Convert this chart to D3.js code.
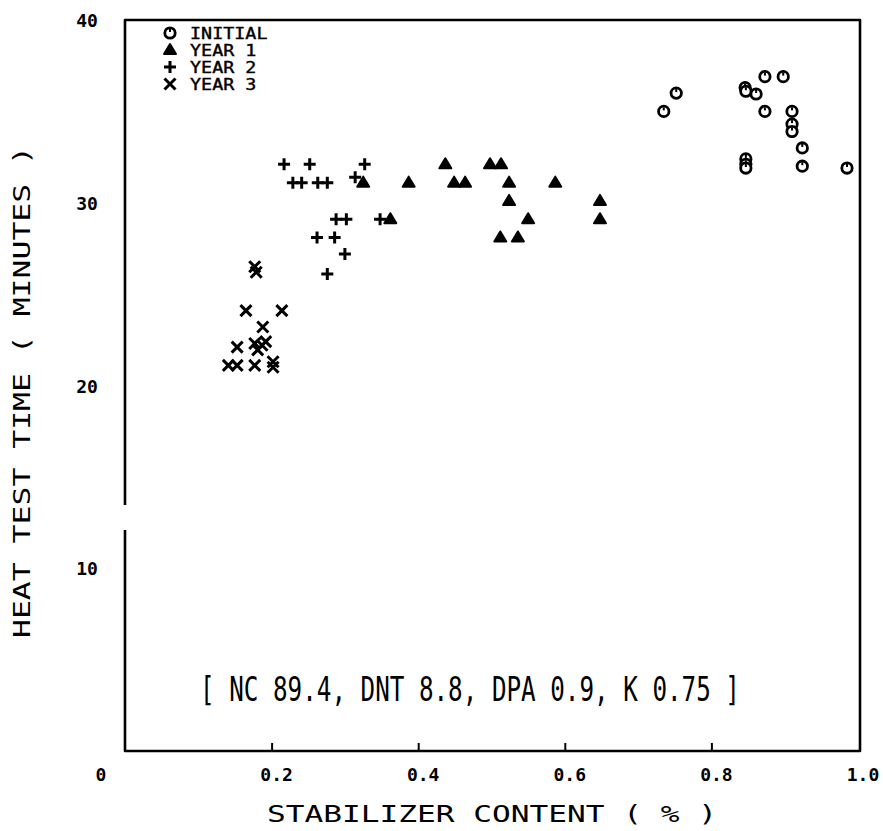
<!DOCTYPE html>
<html>
<head>
<meta charset="utf-8">
<script src="https://cdn.jsdelivr.net/npm/d3@7"></script>
<style>
  html, body { margin: 0; padding: 0; background: #fff; }
  svg text { font-family: "DejaVu Sans Mono", "Liberation Mono", monospace; fill: #000; }
</style>
</head>
<body>
<svg id="chart" width="883" height="831"></svg>
<script>
// Stabilizer content (%) vs. heat test time (minutes), by ageing period
const initialX = [0.735, 0.752, 0.846, 0.847, 0.861, 0.873, 0.898, 0.873, 0.910, 0.910, 0.910, 0.924, 0.924, 0.985, 0.847, 0.847, 0.847];
const initialY = [35.0, 36.0, 36.3, 36.1, 35.95, 36.9, 36.9, 35.0, 35.0, 34.3, 33.9, 33.0, 32.0, 31.9, 32.4, 32.1, 31.9];

const year1X = [0.325, 0.362, 0.387, 0.437, 0.449, 0.464, 0.498, 0.513, 0.524, 0.524, 0.587, 0.550, 0.512, 0.536, 0.648, 0.648];
const year1Y = [31.1, 29.1, 31.1, 32.1, 31.1, 31.1, 32.1, 32.1, 31.1, 30.1, 31.1, 29.1, 28.1, 28.1, 30.1, 29.1];

const year2X = [0.217, 0.252, 0.327, 0.229, 0.241, 0.263, 0.276, 0.314, 0.288, 0.302, 0.348, 0.262, 0.286, 0.300, 0.276];
const year2Y = [32.1, 32.1, 32.1, 31.1, 31.1, 31.1, 31.1, 31.4, 29.1, 29.1, 29.1, 28.1, 28.1, 27.2, 26.1];

const year3X = [0.177, 0.179, 0.165, 0.214, 0.188, 0.153, 0.177, 0.187, 0.181, 0.192, 0.141, 0.153, 0.177, 0.202, 0.202];
const year3Y = [26.5, 26.2, 24.1, 24.1, 23.2, 22.1, 22.3, 22.2, 21.95, 22.4, 21.1, 21.1, 21.1, 21.3, 21.0];

const xTickValues = [0, 0.2, 0.4, 0.6, 0.8, 1.0];
const xTickLabels = ["0", "0.2", "0.4", "0.6", "0.8", "1.0"];
const yTickValues = [10, 20, 30, 40];
const yTickLabels = ["10", "20", "30", "40"];

const legendLabels = ["INITIAL", "YEAR 1", "YEAR 2", "YEAR 3"];
const legendSymbols = ["circle", "triangle", "plus", "cross"];
const compositionNote = "[ NC 89.4, DNT 8.8, DPA 0.9, K 0.75 ]";
const xTitle = "STABILIZER CONTENT ( % )";
const yTitle = "HEAT TEST TIME ( MINUTES )";

const svg = d3.select("#chart");
const plotLeft = 125, plotRight = 858, plotTop = 20, plotBottom = 751;
const x = d3.scaleLinear().domain([0, 1]).range([plotLeft, plotRight]);
const y = d3.scaleLinear().domain([0, 40]).range([plotBottom, plotTop]);

// Frame (left side has a short break, as in the plotter output)
const frame = svg.append("g").attr("fill", "none").attr("stroke", "#000")
  .attr("stroke-width", 2.6).attr("stroke-linejoin", "round");
frame.append("path").attr("d",
  `M${plotLeft},505 L${plotLeft},${plotTop} L${plotRight + 2},${plotTop} L${plotRight + 2},${plotBottom} L${plotLeft},${plotBottom} L${plotLeft},530`);

// Bottom tick marks
svg.append("g")
  .attr("transform", `translate(0,${plotBottom})`)
  .call(d3.axisBottom(x).tickValues([0.2, 0.4, 0.6, 0.8]).tickSize(-8).tickFormat(""))
  .call(g => g.select(".domain").remove())
  .call(g => g.selectAll("line").attr("stroke", "#000").attr("stroke-width", 2));

// Tick labels
svg.append("g").selectAll("text").data(xTickValues).join("text")
  .attr("x", (d, i) => i === 0 ? x(d) - 24 : x(d) + 5)
  .attr("y", 781)
  .attr("text-anchor", "middle")
  .attr("font-size", 18)
  .attr("font-weight", "bold")
  .text((d, i) => xTickLabels[i]);

svg.append("g").selectAll("text").data(yTickValues).join("text")
  .attr("x", 87)
  .attr("y", d => y(d) + 7)
  .attr("text-anchor", "middle")
  .attr("font-size", 18)
  .attr("font-weight", "bold")
  .text((d, i) => yTickLabels[i]);

// Axis titles
svg.append("text")
  .attr("x", 492).attr("y", 822)
  .attr("text-anchor", "middle")
  .attr("font-size", 23)
  .attr("textLength", 450).attr("lengthAdjust", "spacingAndGlyphs")
  .text(xTitle);

svg.append("text")
  .attr("transform", "translate(30,392) rotate(-90)")
  .attr("text-anchor", "middle")
  .attr("font-size", 23)
  .attr("textLength", 492).attr("lengthAdjust", "spacingAndGlyphs")
  .text(yTitle);

// Composition note, in a condensed plotter-like face
svg.append("g")
  .attr("transform", "translate(470,701) scale(0.735,1)")
  .append("text")
  .attr("x", 0).attr("y", 0)
  .attr("text-anchor", "middle")
  .attr("font-size", 33)
  .text(compositionNote);

// Marker drawing
function drawMarker(g, kind) {
  if (kind === "circle") {
    g.append("circle").attr("r", 5.2).attr("fill", "#fff").attr("stroke", "#000").attr("stroke-width", 2.8);
    g.append("rect").attr("x", -1).attr("y", -4).attr("width", 2).attr("height", 3).attr("fill", "#000");
  } else if (kind === "triangle") {
    g.append("path").attr("d", "M0,-6 L6,4 L-6,4 Z").attr("fill", "#000")
      .attr("stroke", "#000").attr("stroke-width", 2).attr("stroke-linejoin", "round");
  } else if (kind === "plus") {
    g.append("path").attr("d", "M-6,0 L6,0 M0,-6 L0,6").attr("stroke", "#000").attr("stroke-width", 3).attr("fill", "none");
  } else {
    g.append("path").attr("d", "M-5.5,-5.5 L5.5,5.5 M-5.5,5.5 L5.5,-5.5").attr("stroke", "#000").attr("stroke-width", 3).attr("fill", "none");
  }
}

const series = [
  { xs: initialX, ys: initialY, kind: "circle" },
  { xs: year1X, ys: year1Y, kind: "triangle" },
  { xs: year2X, ys: year2Y, kind: "plus" },
  { xs: year3X, ys: year3Y, kind: "cross" }
];

series.forEach(s => {
  const pts = s.xs.map((v, i) => [v, s.ys[i]]);
  svg.append("g").selectAll("g").data(pts).join("g")
    .attr("transform", d => `translate(${x(d[0])},${y(d[1])})`)
    .each(function () { drawMarker(d3.select(this), s.kind); });
});

// Legend
const legend = svg.append("g");
legendLabels.forEach((lab, i) => {
  const ly = 33 + i * 17;
  const g = legend.append("g").attr("transform", `translate(170,${ly})`);
  drawMarker(g, legendSymbols[i]);
  legend.append("g")
    .attr("transform", `translate(190,${ly + 6}) scale(1.15,1)`)
    .append("text")
    .attr("font-size", 16)
    .attr("stroke", "#000").attr("stroke-width", 0.4)
    .text(lab);
});
</script>
</body>
</html>
